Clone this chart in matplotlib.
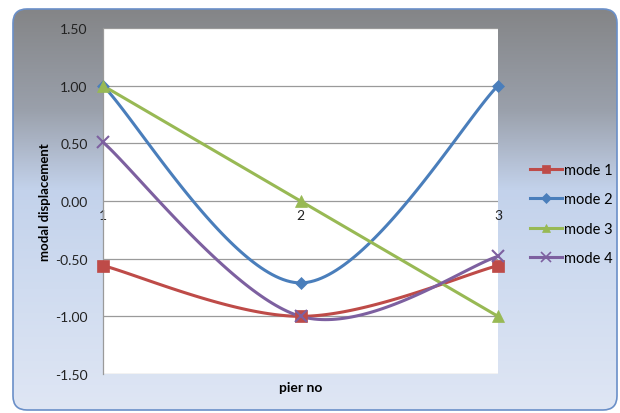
import numpy as np
import matplotlib
matplotlib.use('Agg')
import matplotlib.pyplot as plt
from matplotlib.patches import FancyBboxPatch
from matplotlib.colors import LinearSegmentedColormap

plt.rcParams['font.family'] = ['Lato', 'DejaVu Sans']

# modal displacement per pier
piers = [1, 2, 3]
mode1 = [-0.56, -1.00, -0.56]
mode2 = [1.00, -0.71, 1.00]
mode3 = [1.00, 0.00, -1.00]
mode4 = [0.51, -1.00, -0.48]
labels = ['mode 1', 'mode 2', 'mode 3', 'mode 4']
yticks = [-1.5, -1.0, -0.5, 0.0, 0.5, 1.0, 1.5]


def smooth(xs, ys, n=60):
    # spreadsheet-style smoothed line: cubic bezier segments,
    # control points from neighbouring points (factor 1/6)
    P = np.column_stack([xs, ys]).astype(float)
    ext = np.vstack([P[0], P, P[-1]])
    out = []
    t = np.linspace(0, 1, n)[:, None]
    for i in range(len(P) - 1):
        p0 = ext[i + 1]
        p3 = ext[i + 2]
        c1 = p0 + (ext[i + 2] - ext[i]) / 6.0
        c2 = p3 - (ext[i + 3] - ext[i + 1]) / 6.0
        seg = ((1 - t) ** 3) * p0 + 3 * ((1 - t) ** 2) * t * c1 \
            + 3 * (1 - t) * t ** 2 * c2 + t ** 3 * p3
        out.append(seg if i == 0 else seg[1:])
    seg = np.vstack(out)
    return seg[:, 0], seg[:, 1]


W, H = 620, 414
fig = plt.figure(figsize=(W / 100, H / 100), dpi=100)
fig.patch.set_facecolor('white')

# background panel with vertical gradient
bg = fig.add_axes([0, 0, 1, 1])
bg.set_xlim(0, W)
bg.set_ylim(0, H)
bg.axis('off')
cmap = LinearSegmentedColormap.from_list('panel', [
    (0.0, '#848587'),
    (0.25, '#9aa0ab'),
    (0.45, '#c3d2eb'),
    (0.70, '#d0dcf0'),
    (1.0, '#dfe6f4'),
])
grad = np.linspace(0, 1, 256)[:, None]
panel = FancyBboxPatch((13, 3), 604, 401, boxstyle='round,pad=0,rounding_size=14',
                       facecolor='none', edgecolor='#6a8fc8', linewidth=1.2, zorder=2)
bg.add_patch(panel)
img = bg.imshow(grad, cmap=cmap, aspect='auto', extent=[13, 617, 3, 404],
                origin='upper', zorder=1)
img.set_clip_path(panel)

ax = fig.add_axes([103 / W, 39 / H, 395 / W, 346 / H])
ax.set_facecolor('white')

series = [mode1, mode2, mode3, mode4]
colors = ['#be4b48', '#4a7ebb', '#98b954', '#7d60a0']
markers = ['s', 'D', '^', 'x']
msizes = [8, 6, 8, 9]

for ys, c, m, ms, lab in zip(series, colors, markers, msizes, labels):
    sx, sy = smooth(piers, ys)
    ax.plot(sx, sy, color=c, lw=2.2, solid_capstyle='round', zorder=3, clip_on=False)
    ax.plot(piers, ys, linestyle='none', marker=m, color=c, markersize=ms,
            markeredgewidth=1.5 if m == 'x' else 0.5, zorder=4, clip_on=False)
    ax.plot([], [], color=c, lw=2.2, marker=m, markersize=ms * 0.8,
            markeredgewidth=1.2 if m == 'x' else 0.5, label=lab)

ax.set_xlim(1, 3)
ax.set_ylim(-1.5, 1.5)
ax.set_yticks(yticks)
ax.set_yticklabels(['%.2f' % v for v in yticks], fontsize=10, color='#222222')
ax.set_xticks([])
ax.grid(False)
for v in yticks:
    ax.axhline(v, color='#9a9a9a', lw=0.9, zorder=1)

for s in ['top', 'right', 'bottom']:
    ax.spines[s].set_visible(False)
ax.spines['left'].set_color('#9a9a9a')
ax.spines['left'].set_linewidth(0.9)
ax.tick_params(axis='y', length=0, pad=11)

# category labels sit just under the zero line
for p in piers:
    ax.text(p, -0.07, str(p), ha='center', va='top', fontsize=10, color='#222222', zorder=2)

ax.set_ylabel('modal displacement', fontsize=9.5, fontweight='bold', labelpad=3)
ax.set_xlabel('pier no', fontsize=10, fontweight='bold', labelpad=5)

leg = ax.legend(loc='center left', bbox_to_anchor=(517 / W, 199 / H),
                bbox_transform=fig.transFigure, frameon=False, fontsize=10.5,
                handlelength=2.2, handletextpad=0.1, labelspacing=1.05)

fig.savefig('out.png', dpi=100)
